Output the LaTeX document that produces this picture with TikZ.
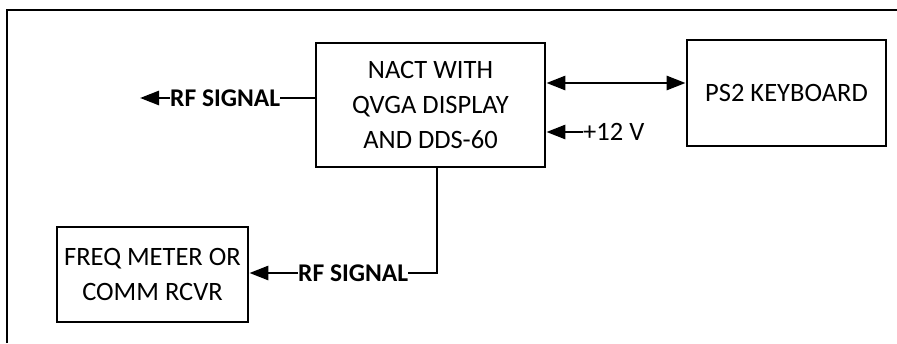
\documentclass[tikz,border=0pt]{standalone}
\usepackage{fontspec}
\setmainfont{Carlito}
\usetikzlibrary{arrows.meta}
\begin{document}
\begin{tikzpicture}[x=1pt,y=-1pt,
  blk/.style={draw,line width=2.8pt,inner sep=0pt,align=center,font=\fontsize{26.5}{35}\selectfont},
  lbl/.style={inner sep=0pt,font=\fontsize{25.5}{28}\selectfont\bfseries},
  plain/.style={inner sep=0pt,font=\fontsize{26.5}{30}\selectfont},
  conn/.style={line width=2.8pt},
  hd/.tip={Triangle[length=19pt,width=14pt]},
  tip/.style={-hd}]
\useasboundingbox (0,0) rectangle (897,343);
\draw[line width=2.8pt] (7,343) -- (7,10) -- (897,10);
\node[blk,minimum width=229pt,minimum height=124pt] (nact) at (430.5,105) {NACT WITH\\QVGA DISPLAY\\AND DDS-60};
\node[blk,minimum width=199pt,minimum height=106pt] (ps2) at (786.5,93) {PS2 KEYBOARD};
\node[blk,minimum width=191pt,minimum height=95pt] (freq) at (152.5,274.5) {FREQ METER OR\\COMM RCVR};
\node[lbl,anchor=west] (rf1) at (170,98) {RF SIGNAL};
\coordinate (rf1tip) at (140,98);
\node[plain,anchor=west] (v12) at (583,132) {+12 V};
\node[lbl,anchor=west] (rf2) at (298,273) {RF SIGNAL};
\coordinate (bend) at (437,273);
% connectors
\draw[conn] (nact.west |- rf1) -- (rf1.east);
\draw[conn,tip] (rf1.west) -- (rf1tip);
\draw[conn,hd-hd] (nact.east |- 0,83) -- (ps2.west |- 0,83);
\draw[conn,tip] (v12.west) -- (nact.east |- v12);
\draw[conn] (nact.south -| bend) -- (bend) -- (rf2.east);
\draw[conn,tip] (rf2.west) -- (freq.east |- rf2);
\end{tikzpicture}
\end{document}
